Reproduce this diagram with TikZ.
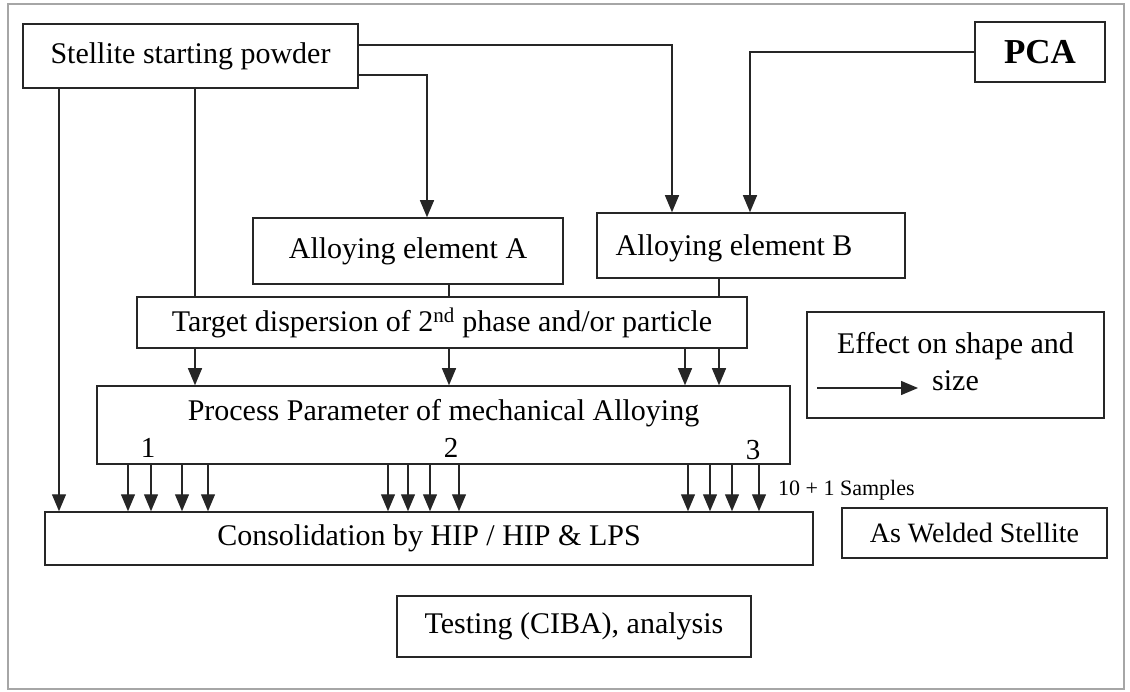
\documentclass[tikz,border=0pt]{standalone}
\usepackage{fontspec}
\setmainfont{Liberation Serif}
\usetikzlibrary{arrows.meta}
\tikzset{
  box/.style={draw=black!85, line width=1.5pt, inner sep=0pt, font=\fontsize{30}{37}\selectfont},
  ln/.style={draw=black!85, line width=1.3pt},
  arr/.style={ln, -{Triangle[width=14pt,length=17pt]}},
  num/.style={inner sep=0pt, font=\fontsize{29}{34}\selectfont},
}
\begin{document}
\begin{tikzpicture}[x=1pt,y=-1pt]
\useasboundingbox (0,0) rectangle (1130,692);
\draw[gray!70, line width=2pt] (8,4) rectangle (1124,689);

% boxes
\node[box, minimum width=335pt, minimum height=64pt] (stellite) at (190.5,56) {Stellite starting powder};
\node[box, minimum width=130pt, minimum height=60pt, font=\fontsize{35}{40}\selectfont\bfseries] (pca) at (1040,52) {PCA};
\node[box, minimum width=310pt, minimum height=66pt] (A) at (408,251) {Alloying element A};
\node[box, minimum width=308pt, minimum height=65pt,
      label={[inner sep=0pt, font=\fontsize{30}{37}\selectfont, xshift=-17pt, yshift=-3pt]center:Alloying element B}] (B) at (751,245.5) {};
\node[box, minimum width=610pt, minimum height=51pt] (target) at (442,322.5) {Target dispersion of 2\textsuperscript{nd} phase and/or particle};
\node[box, minimum width=693pt, minimum height=78pt,
      label={[inner sep=0pt, font=\fontsize{30}{37}\selectfont, yshift=12pt]center:Process Parameter of mechanical Alloying}] (process) at (443.5,425) {};
\node[num] (n1) at (148,448) {1};
\node[num] (n2) at (451,448) {2};
\node[num] (n3) at (753,450) {3};
\node[box, minimum width=297pt, minimum height=106pt, align=center,
      label={[inner sep=0pt, font=\fontsize{30}{37}\selectfont, align=center, yshift=3.5pt]center:Effect on shape and\\size}] (effect) at (955.5,365) {};
\node[box, minimum width=768pt, minimum height=53pt] (cons) at (429,538.5) {Consolidation by HIP / HIP \& LPS};
\node[box, minimum width=265pt, minimum height=50pt, font=\fontsize{28}{34}\selectfont] (welded) at (974.5,533) {As Welded Stellite};
\node[box, minimum width=354pt, minimum height=61pt] (testing) at (574,626.5) {Testing (CIBA), analysis};
\node[inner sep=0pt, font=\fontsize{22}{26}\selectfont, anchor=west] (samples) at (778,490) {10 + 1 Samples};

% helper coordinates
\coordinate (ya) at (0,75);
\coordinate (yb) at (0,45);
\foreach \x in {59,195,427,449,672,685,719,750,128,151,182,208,388,408,430,459,688,710,732,759}
  \coordinate (x\x) at (\x,0);

% connectors from starting powder
\draw[arr] (stellite.south -| x59) -- (cons.north -| x59);
\draw[ln] (stellite.south -| x195) -- (target.north -| x195);
\draw[arr] (stellite.east |- ya) -| (A.north -| x427);
\draw[arr] (stellite.east |- yb) -| (B.north -| x672);
\draw[arr] (pca.west) -| (B.north -| x750);

% into target
\draw[ln] (A.south -| x449) -- (target.north -| x449);
\draw[ln] (B.south -| x719) -- (target.north -| x719);

% target to process
\foreach \x in {195,449,685,719}
  \draw[arr] (target.south -| x\x) -- (process.north -| x\x);

% process to consolidation
\foreach \x in {128,151,182,208,388,408,430,459,688,710,732,759}
  \draw[arr] (process.south -| x\x) -- (cons.north -| x\x);

% legend arrow
\coordinate (ea) at (817,388);
\coordinate (eb) at (918,388);
\draw[arr] (ea) -- (eb);
\end{tikzpicture}
\end{document}
